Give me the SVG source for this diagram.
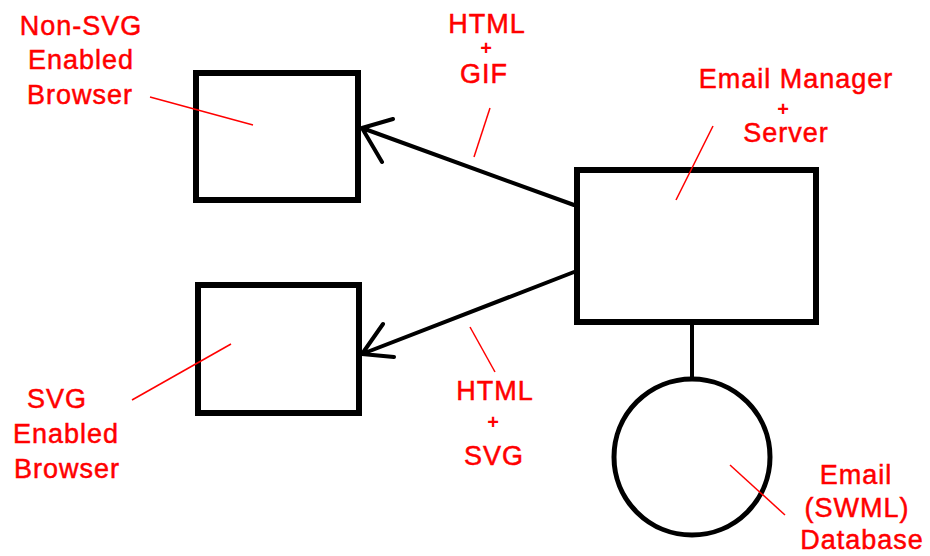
<svg xmlns="http://www.w3.org/2000/svg" width="930" height="556" viewBox="0 0 930 556">
  <style>
    .node { fill: #ffffff; stroke: #000000; stroke-width: 6; }
    .db { fill: #ffffff; stroke: #000000; stroke-width: 5; }
    .link { fill: none; stroke: #000000; stroke-width: 4; stroke-linecap: round; stroke-linejoin: round; }
    .pointer { fill: none; stroke: #ff0000; stroke-width: 1.5; }
    .label { fill: #ff0000; stroke: #ff0000; stroke-width: 0.5; font-family: "Liberation Sans", Arial, sans-serif; font-size: 27px; letter-spacing: 1px; text-anchor: middle; }
    .plus { fill: #ff0000; font-family: "Liberation Sans", Arial, sans-serif; font-size: 20px; font-weight: bold; text-anchor: middle; }
  </style>
  <rect width="930" height="556" fill="#ffffff"/>

  <!-- connectors: server to browsers, server to database -->
  <g id="connectors">
    <path class="link" d="M574 205 L362 128 M393 119 L362 128 L382 162"/>
    <path class="link" d="M574 272 L362 354 M383 324 L362 354 L394 357"/>
    <line x1="692" y1="325" x2="692" y2="379" stroke="#000000" stroke-width="4"/>
  </g>

  <g id="non-svg-browser">
    <rect class="node" x="196" y="73" width="162" height="127"/>
    <line class="pointer" x1="150" y1="97" x2="253" y2="125"/>
    <text class="label" x="81" y="35">Non-SVG</text>
    <text class="label" x="81" y="69">Enabled</text>
    <text class="label" x="80" y="104">Browser</text>
  </g>

  <g id="svg-browser">
    <rect class="node" x="198" y="285" width="161" height="128"/>
    <line class="pointer" x1="132" y1="400" x2="231" y2="344"/>
    <text class="label" x="57" y="408">SVG</text>
    <text class="label" x="66" y="443">Enabled</text>
    <text class="label" x="67" y="478">Browser</text>
  </g>

  <g id="email-server">
    <rect class="node" x="577" y="170" width="239" height="152"/>
    <line class="pointer" x1="713" y1="126" x2="676" y2="200"/>
    <text class="label" x="796" y="88">Email Manager</text>
    <text class="plus" x="783" y="116">+</text>
    <text class="label" x="786" y="142">Server</text>
  </g>

  <g id="email-database">
    <circle class="db" cx="692" cy="457" r="78"/>
    <line class="pointer" x1="730" y1="465" x2="785" y2="515"/>
    <text class="label" x="856" y="484">Email</text>
    <text class="label" x="857" y="517">(SWML)</text>
    <text class="label" x="862" y="549">Database</text>
  </g>

  <g id="label-html-gif">
    <line class="pointer" x1="490" y1="108" x2="474" y2="157"/>
    <text class="label" x="487" y="33">HTML</text>
    <text class="plus" x="486" y="55">+</text>
    <text class="label" x="484" y="83">GIF</text>
  </g>

  <g id="label-html-svg">
    <line class="pointer" x1="470" y1="327" x2="495" y2="372"/>
    <text class="label" x="495" y="400">HTML</text>
    <text class="plus" x="493" y="429">+</text>
    <text class="label" x="494" y="465">SVG</text>
  </g>
</svg>
